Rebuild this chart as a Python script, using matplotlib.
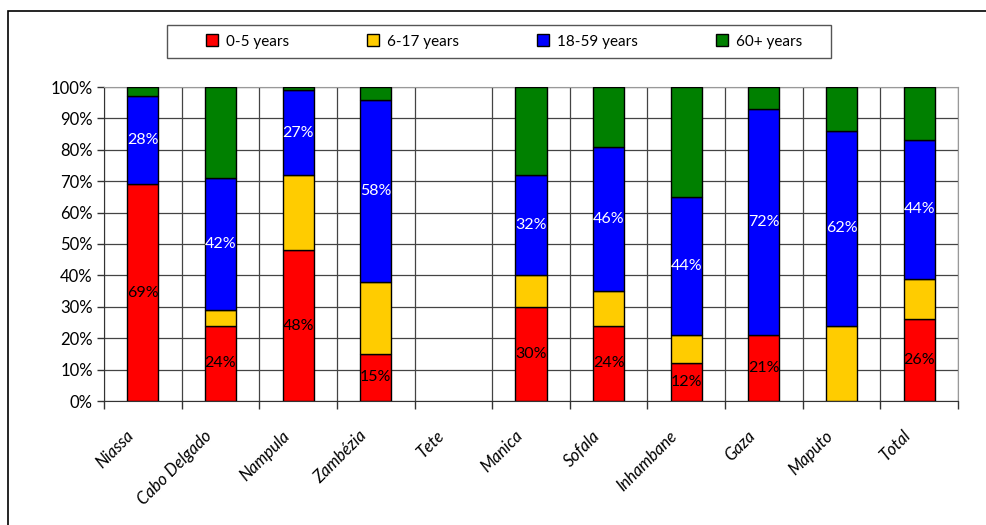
import numpy as np
import matplotlib.pyplot as plt
from matplotlib.patches import Rectangle

plt.rcParams['font.family'] = ['Lato', 'DejaVu Sans']

provinces = ['Niassa', 'Cabo Delgado', 'Nampula', 'Zambézia', 'Tete', 'Manica',
             'Sofala', 'Inhambane', 'Gaza', 'Maputo', 'Total']
age_groups = ['0-5 years', '6-17 years', '18-59 years', '60+ years']
colors = ['#ff0000', '#ffcc00', '#0000ff', '#008000']

# shares in percent, NaN where there is no data
age_0_5 = [69, 24, 48, 15, np.nan, 30, 24, 12, 21, np.nan, 26]
age_6_17 = [np.nan, 5, 24, 23, np.nan, 10, 11, 9, np.nan, 24, 13]
age_18_59 = [28, 42, 27, 58, np.nan, 32, 46, 44, 72, 62, 44]
age_60_plus = [3, 29, 1, 4, np.nan, 28, 19, 35, 7, 14, 17]

series = [age_0_5, age_6_17, age_18_59, age_60_plus]
label_text = ['black', None, 'white', None]

W, H = 987, 525
fig = plt.figure(figsize=(W / 100, H / 100), dpi=100)
ax = fig.add_axes([104 / W, 1 - 401 / H, 854 / W, 314 / H])

x = np.arange(len(provinces))
bottom = np.zeros(len(provinces))
for vals, col, name, tcol in zip(series, colors, age_groups, label_text):
    v = np.array(vals, dtype=float)
    ax.bar(x, v, 0.4, bottom=bottom, color=col, edgecolor='black',
           linewidth=1.0, label=name, zorder=3)
    if tcol:
        for xi, (b, h) in enumerate(zip(bottom, v)):
            if not np.isnan(h):
                ax.text(xi, b + h / 2, f'{h:.0f}%', color=tcol, ha='center',
                        va='center', fontsize=11.5, zorder=4)
    bottom = bottom + np.nan_to_num(v)

ax.set_xlim(-0.5, len(provinces) - 0.5)
ax.set_ylim(0, 100)
ax.set_yticks(np.arange(0, 101, 10))
ax.set_yticklabels([f'{t}%' for t in range(0, 101, 10)], fontsize=12)

# category boundaries carry the vertical grid and the tick marks
ax.set_xticks(np.arange(-0.5, len(provinces)))
ax.set_xticklabels([])
ax.tick_params(axis='x', length=6, width=1, color='#333333')
ax.tick_params(axis='y', length=5, width=1, color='#333333', pad=3)
ax.grid(True, color='#444444', linewidth=0.9, zorder=0)
for xi, name in enumerate(provinces):
    ax.text(xi - 0.22, -8.5, name, rotation=45, ha='right', va='top',
            rotation_mode='anchor', fontsize=12, style='italic')

for side in ['top', 'right']:
    ax.spines[side].set_color('#999999')
for side in ['left', 'bottom']:
    ax.spines[side].set_color('#333333')

# legend entries spread across the box, box drawn separately
leg = fig.legend(loc='center', ncol=4, mode='expand',
                 bbox_to_anchor=(200 / W, 1 - 58 / H, 608 / W, 33 / H),
                 frameon=False, fontsize=11, handlelength=0.8,
                 handleheight=0.8, handletextpad=0.5, borderaxespad=0)
for h in leg.legend_handles:
    h.set_linewidth(1.0)
fig.patches.append(Rectangle((167 / W, 1 - 58 / H), 664 / W, 33 / H,
                             transform=fig.transFigure, fill=False,
                             edgecolor='#555555', linewidth=1.0))

fig.patches.append(Rectangle((8 / W, -0.1), 1.2, 1 - 11 / H + 0.1,
                             transform=fig.transFigure, fill=False,
                             edgecolor='black', linewidth=1.2))

fig.savefig('out.png', dpi=100)
